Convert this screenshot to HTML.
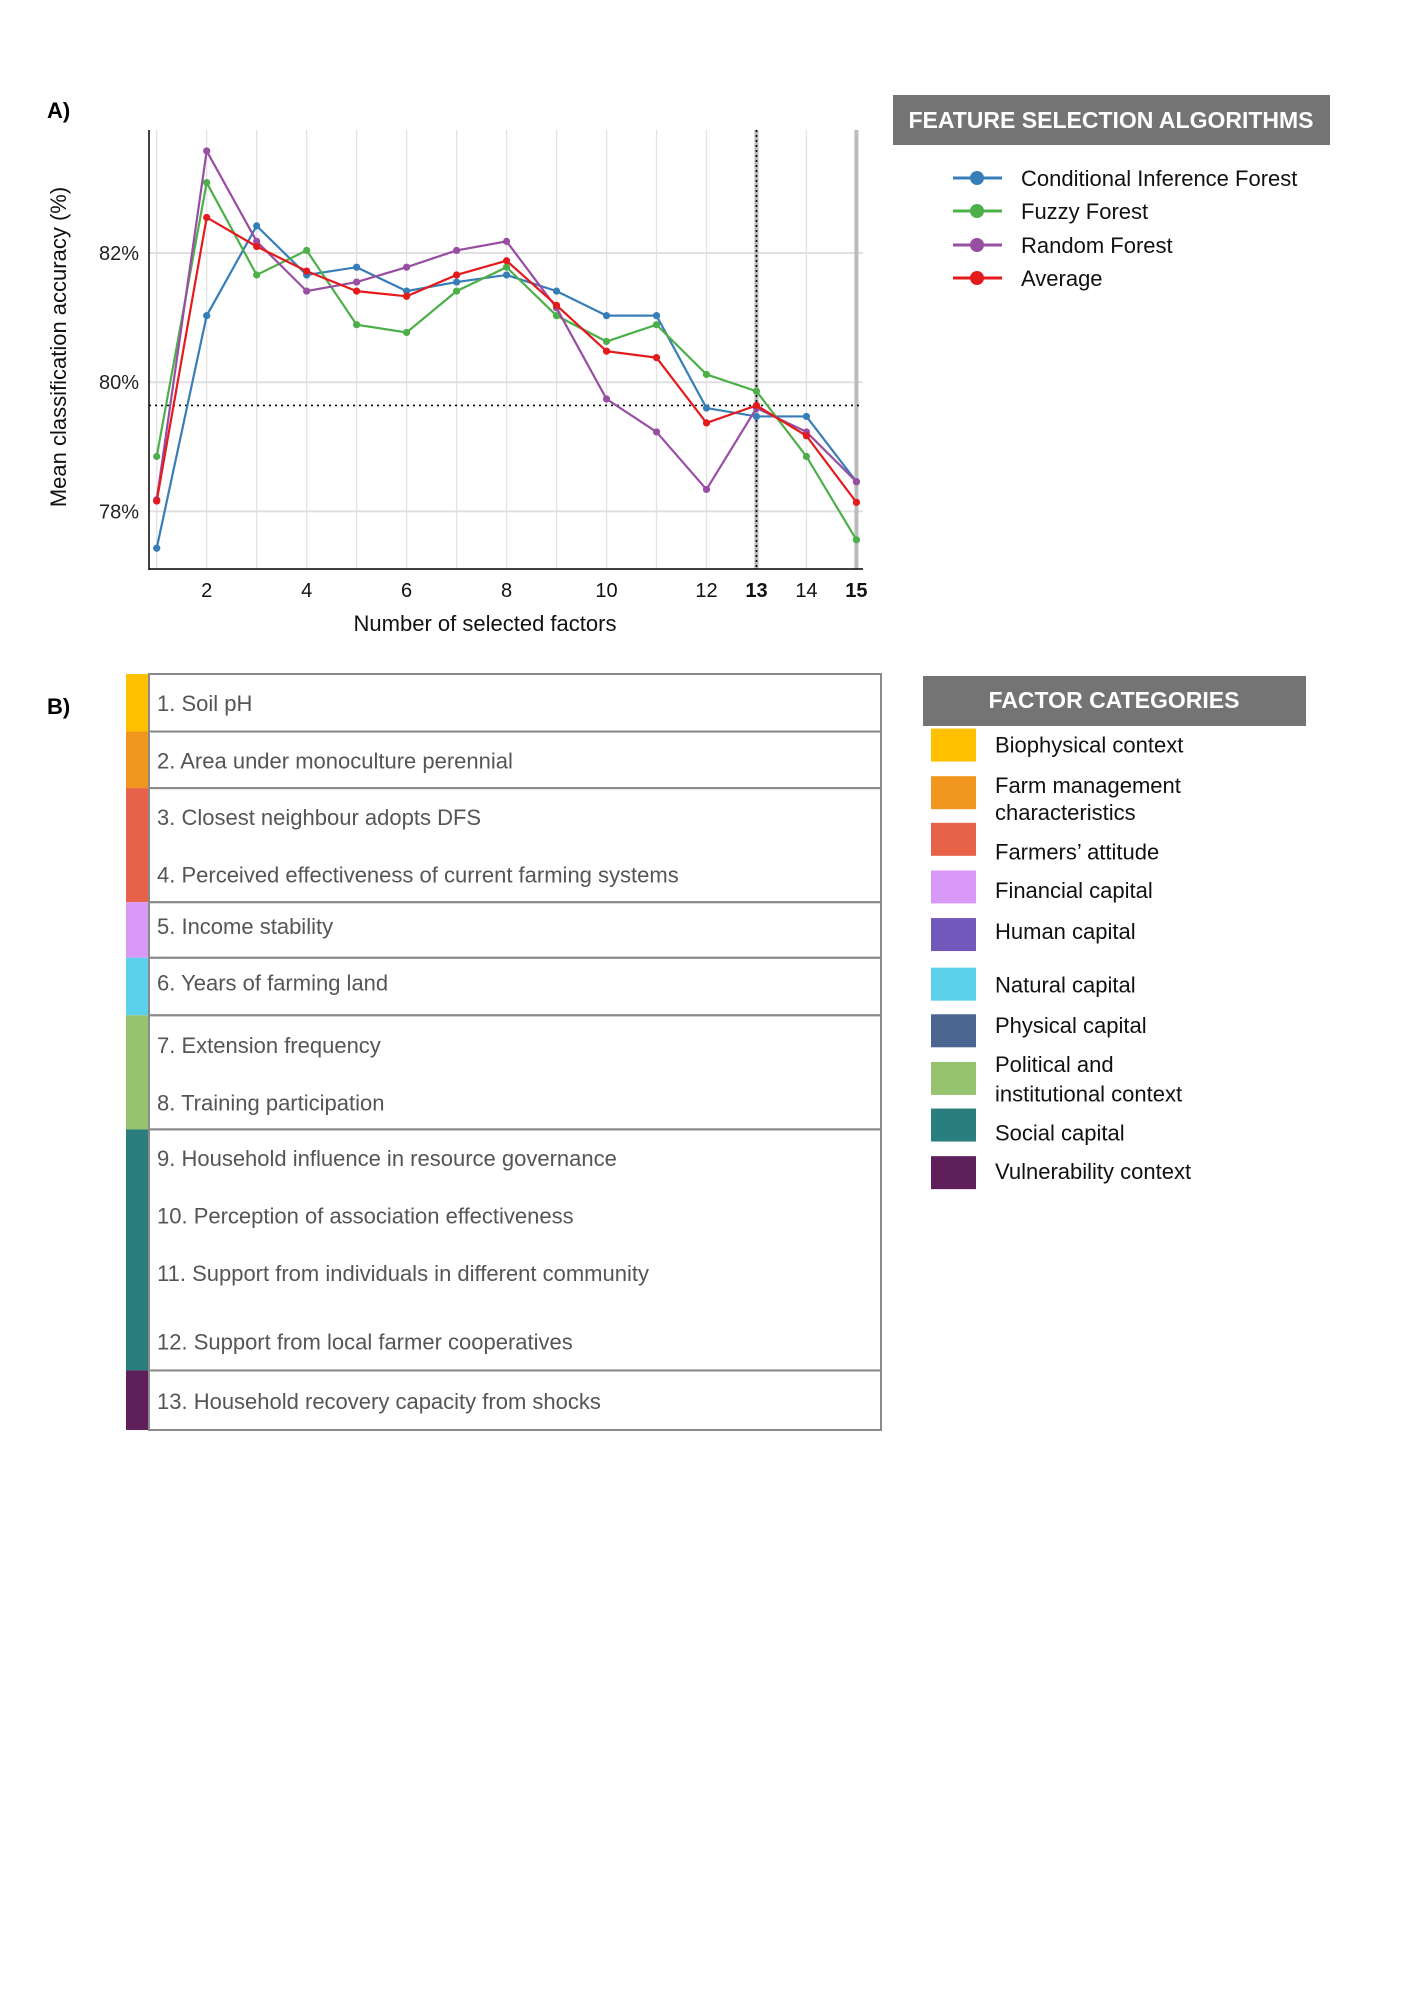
<!DOCTYPE html>
<html><head><meta charset="utf-8"><style>
body{margin:0;background:#fff;}
svg{display:block;font-family:"Liberation Sans",sans-serif;}
</style></head><body>
<svg id="root" width="1414" height="2000" viewBox="0 0 1414 2000">
<text x="47" y="118" font-size="22" font-weight="bold" fill="#000">A)</text>
<g id="chart"></g>
<g>
<rect x="893" y="95" width="437" height="50" fill="#747474"/>
<text x="1111" y="128" font-size="23" font-weight="bold" fill="#fff" text-anchor="middle">FEATURE SELECTION ALGORITHMS</text>
<g id="legend-entries"></g>
</g>
<text x="47" y="714" font-size="22" font-weight="bold" fill="#000">B)</text>
<g id="table"></g>
<g>
<rect x="923" y="676" width="383" height="50" fill="#747474"/>
<text x="1114" y="708" font-size="23" font-weight="bold" fill="#fff" text-anchor="middle">FACTOR CATEGORIES</text>
<g id="cat-entries"></g>
</g>
</svg>
<script>
const xValues=[1,2,3,4,5,6,7,8,9,10,11,12,13,14,15];
const cifValues=[77.43,81.03,82.42,81.66,81.78,81.41,81.55,81.66,81.41,81.03,81.03,79.6,79.47,79.47,78.46];
const fuzzyValues=[78.85,83.09,81.66,82.04,80.89,80.77,81.41,81.78,81.03,80.63,80.89,80.12,79.86,78.85,77.56];
const rfValues=[78.18,83.58,82.18,81.41,81.55,81.78,82.04,82.18,81.15,79.74,79.23,78.34,79.6,79.23,78.46];
const avgValues=[78.16,82.55,82.1,81.72,81.41,81.33,81.66,81.88,81.19,80.48,80.38,79.37,79.64,79.17,78.14];
const thresholdValue=79.64;
const yTicks=[78,80,82];
const yTickLabels=["78%","80%","82%"];
const xTicks=[2,4,6,8,10,12,13,14,15];
const seriesNames=["Conditional Inference Forest","Fuzzy Forest","Random Forest","Average"];

const NS="http://www.w3.org/2000/svg";
function mk(tag,attrs,parent){const e=document.createElementNS(NS,tag);for(const k in attrs)e.setAttribute(k,attrs[k]);parent.appendChild(e);return e;}
const X=v=>156.7+(v-1)*49.98;
const Y=v=>382.2-(v-80)*64.6;
const TY=y=>674+(y-679)*0.9921;
const chart=document.getElementById('chart');
const L=149,R=863,T=130,B=569;
for(let v=1;v<=15;v++){const g=mk('line',{x1:X(v),x2:X(v),y1:T,y2:B,stroke:'#e3e3e3','stroke-width':1.3},chart);

}
yTicks.forEach((t,i)=>{const g=mk('line',{x1:L,x2:R,y1:Y(t),y2:Y(t),stroke:'#e0e0e0','stroke-width':2},chart);


const tx=mk('text',{x:139,y:Y(t)+7,'font-size':20,'text-anchor':'end',fill:'#222'},chart);tx.textContent=yTickLabels[i];

});
const v13=mk('line',{x1:X(13),x2:X(13),y1:T,y2:B,stroke:'#bbb','stroke-width':4},chart);


const v13d=mk('line',{x1:X(13),x2:X(13),y1:T,y2:B,stroke:'#000','stroke-width':1.6,'stroke-dasharray':'2 3'},chart);


const v15=mk('line',{x1:X(15),x2:X(15),y1:T,y2:B,stroke:'#bbb','stroke-width':4},chart);


const th=mk('line',{x1:L,x2:R,y1:Y(thresholdValue),y2:Y(thresholdValue),stroke:'#000','stroke-width':1.6,'stroke-dasharray':'2 4'},chart);


const ax1=mk('line',{x1:L,x2:L,y1:T,y2:B+1,stroke:'#000','stroke-width':1.5},chart);


const ax2=mk('line',{x1:L,x2:R,y1:B,y2:B,stroke:'#000','stroke-width':1.5},chart);


xTicks.forEach(t=>{const bold=(t===13||t===15);const tx=mk('text',{x:X(t),y:597,'font-size':20,'text-anchor':'middle',fill:'#111','font-weight':bold?'bold':'normal'},chart);tx.textContent=t;

});
const xt=mk('text',{x:485,y:631,'font-size':22,'text-anchor':'middle',fill:'#111'},chart);xt.textContent='Number of selected factors';


const yt=mk('text',{x:0,y:0,'font-size':22,'text-anchor':'middle',fill:'#111',transform:'translate(66,347) rotate(-90)'},chart);yt.textContent='Mean classification accuracy (%)';


const series=[[cifValues,'#377EB8','cif'],[fuzzyValues,'#4DAF4A','fuzzy-forest'],[rfValues,'#984EA3','random-forest'],[avgValues,'#E41A1C','average']];
series.forEach(([vals,col,nm])=>{
 const p=mk('polyline',{points:vals.map((v,i)=>X(xValues[i])+','+Y(v)).join(' '),fill:'none',stroke:col,'stroke-width':2.2},chart);
 
 
 vals.forEach((v,i)=>{const c=mk('circle',{cx:X(xValues[i]),cy:Y(v),r:3.6,fill:col},chart);
 
 });
});
const le=document.getElementById('legend-entries');
const ly=[178,211,245,278];
series.forEach(([v,col,nm],i)=>{
 const l=mk('line',{x1:953,x2:1002,y1:ly[i],y2:ly[i],stroke:col,'stroke-width':3},le);
 
 
 mk('circle',{cx:977,cy:ly[i],r:7,fill:col},le);
 const t=mk('text',{x:1021,y:ly[i]+8,'font-size':22,fill:'#111'},le);t.textContent=seriesNames[i];
 
 
});
const tb=document.getElementById('table');
const groups=[[679,737,'#FFC000'],[737,794,'#F0961E'],[794,909,'#E8624A'],[909,965,'#D899F8'],[965,1023,'#5AD0EA'],[1023,1138,'#95C36E'],[1138,1381,'#2A7F7E'],[1381,1441,'#5E1F5A']];
groups.forEach(([a,b,c])=>{const ya=TY(a),yb=TY(b);const r=mk('rect',{x:126,y:ya,width:23,height:yb-ya,fill:c},tb);


const rb=mk('rect',{x:149,y:ya,width:732,height:yb-ya,fill:'none',stroke:'#8a8a8a','stroke-width':2},tb);

});
const items=["1. Soil pH","2. Area under monoculture perennial","3. Closest neighbour adopts DFS","4. Perceived effectiveness of current farming systems","5. Income stability","6. Years of farming land","7. Extension frequency","8. Training participation","9. Household influence in resource governance","10. Perception of association effectiveness","11. Support from individuals in different community","12. Support from local farmer cooperatives","13. Household recovery capacity from shocks"];
const iy=[708,766,823,881,933,990,1053,1111,1167,1225,1283,1352,1412];
items.forEach((s,i)=>{const t=mk('text',{x:157,y:TY(iy[i])+8,'font-size':22,fill:'#555'},tb);t.textContent=s;

});
const ce=document.getElementById('cat-entries');
const cats=[["Biophysical context"],["Farm management","characteristics"],["Farmers’ attitude"],["Financial capital"],["Human capital"],["Natural capital"],["Physical capital"],["Political and","institutional context"],["Social capital"],["Vulnerability context"]];
const cc=['#FFC000','#F0961E','#E8624A','#D899F8','#7158BA','#5AD0EA','#4A6590','#95C36E','#2A7F7E','#5E1F5A'];
const sy=[734,782,829,877,925,975,1022,1070,1117,1165];
const ty=[[758],[799,826],[866],[905],[946],[1000],[1041],[1080,1110],[1149],[1188]];
cats.forEach((lines,i)=>{const r=mk('rect',{x:931,y:TY(sy[i]),width:45,height:33,fill:cc[i]},ce);


lines.forEach((s,j)=>{const t=mk('text',{x:995,y:TY(ty[i][j]),'font-size':22,fill:'#111'},ce);t.textContent=s;

});});
</script>
</body></html>
